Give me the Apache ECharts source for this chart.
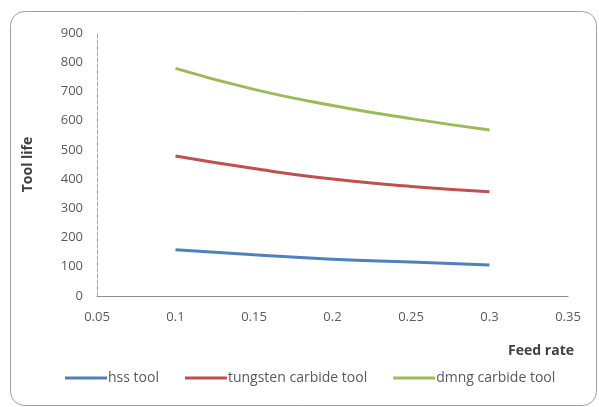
<!DOCTYPE html>
<html><head><meta charset="utf-8">
<script src="https://cdn.jsdelivr.net/npm/echarts@6/dist/echarts.min.js"></script>
<style>html,body{margin:0;padding:0;background:#fff}#c{width:599px;height:407px}</style>
</head><body><div id="c"></div>
<script>
const feedRate = [0.1, 0.15, 0.2, 0.25, 0.3];
const hssTool = [158, 141, 126, 116, 106];
const tungstenTool = [479, 436, 400, 375, 357];
const dmngTool = [779, 707, 652, 607, 568];
const seriesNames = ['hss tool', 'tungsten carbide tool', 'dmng carbide tool'];
const colors = ['#4F81BD', '#C0504D', '#9BBB59'];

const toPairs = arr => arr.map((v, i) => [feedRate[i], v]);
const chart = echarts.init(document.getElementById('c'));
const font = 'Open Sans';
chart.setOption({
  animation: false,
  graphic: [{
    type: 'rect', left: 8, top: 9,
    shape: { width: 586, height: 394, r: 14 },
    style: { fill: 'none', stroke: '#A0A0A0', lineWidth: 1 }
  }],
  grid: { left: 97, right: 31, top: 33, bottom: 111 },
  xAxis: {
    type: 'value', min: 0.05, max: 0.35, interval: 0.05,
    name: 'Feed rate', nameLocation: 'end', nameGap: 0,
    nameTextStyle: { fontFamily: font, fontWeight: 'bold', fontSize: 14, color: '#404040',
      align: 'right', verticalAlign: 'top', padding: [48, -6, 0, 0] },
    axisLine: { lineStyle: { color: '#8C8C8C' } },
    axisTick: { show: false },
    splitLine: { show: false },
    axisLabel: { fontFamily: font, fontSize: 13, color: '#595959', margin: 15,
      formatter: v => String(+v.toFixed(2)) }
  },
  yAxis: {
    type: 'value', min: 0, max: 900, interval: 100,
    name: 'Tool life', nameLocation: 'middle', nameGap: 62, nameRotate: 90,
    nameTextStyle: { fontFamily: font, fontWeight: 'bold', fontSize: 14, color: '#404040' },
    axisLine: { show: true, lineStyle: { color: '#A6A6A6', type: 'dashed' } },
    axisTick: { show: false },
    splitLine: { show: false },
    axisLabel: { fontFamily: font, fontSize: 13, color: '#595959', margin: 14 }
  },
  legend: {
    bottom: 17, left: 60,
    itemWidth: 42, itemHeight: 3, itemGap: 26, icon: 'rect',
    textStyle: { fontFamily: font, fontSize: 14, color: '#595959', padding: [0, 0, 0, -4] },
    data: seriesNames
  },
  series: [hssTool, tungstenTool, dmngTool].map((d, i) => ({
    name: seriesNames[i], type: 'line', smooth: true, symbol: 'none',
    data: toPairs(d), color: colors[i],
    lineStyle: { width: 3, color: colors[i] }
  }))
});
</script></body></html>
